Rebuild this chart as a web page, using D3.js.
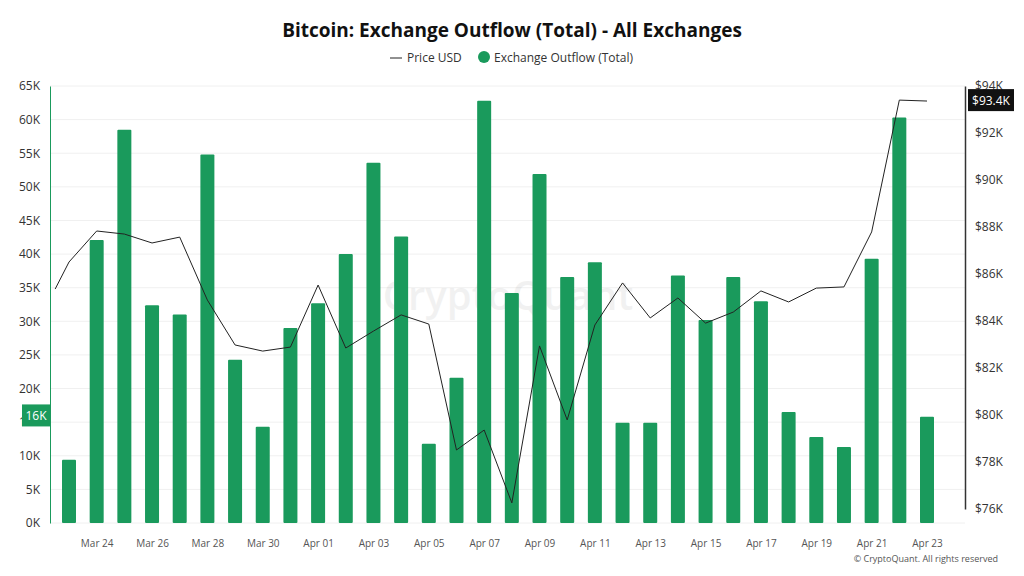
<!DOCTYPE html><html><head><meta charset="utf-8">
<script src="https://cdn.jsdelivr.net/npm/d3@7"></script>
<style>body{margin:0;background:#fff;font-family:"Open Sans",sans-serif}</style></head><body>
<svg id="c" width="1024" height="576"></svg>
<script>
const barDates=["2025-03-23","2025-03-24","2025-03-25","2025-03-26","2025-03-27","2025-03-28","2025-03-29","2025-03-30","2025-03-31","2025-04-01","2025-04-02","2025-04-03","2025-04-04","2025-04-05","2025-04-06","2025-04-07","2025-04-08","2025-04-09","2025-04-10","2025-04-11","2025-04-12","2025-04-13","2025-04-14","2025-04-15","2025-04-16","2025-04-17","2025-04-18","2025-04-19","2025-04-20","2025-04-21","2025-04-22","2025-04-23"];
const outflow=[9.4,42.1,58.5,32.4,31,54.8,24.3,14.3,29,32.7,40,53.6,42.6,11.8,21.6,62.8,34.2,51.9,36.6,38.8,14.9,14.9,36.8,30.2,36.6,33,16.5,12.8,11.3,39.3,60.3,15.8];
const priceDates=["2025-03-22T12:00"].concat(barDates);
const price=[85.36,86.51,87.83,87.70,87.32,87.57,84.89,82.98,82.72,82.89,85.53,82.85,83.57,84.26,83.87,78.51,79.36,76.26,82.94,79.79,83.83,85.62,84.13,84.98,83.91,84.38,85.28,84.81,85.40,85.45,87.79,93.40,93.36];
const leftTicks=[0,5,10,15,20,25,30,35,40,45,50,55,60,65];
const rightTicks=[76,78,80,82,84,86,88,90,92,94];
const xTickDates=["2025-03-24","2025-03-26","2025-03-28","2025-03-30","2025-04-01","2025-04-03","2025-04-05","2025-04-07","2025-04-09","2025-04-11","2025-04-13","2025-04-15","2025-04-17","2025-04-19","2025-04-21","2025-04-23"];
const P=d3.timeParse("%Y-%m-%d"),PT=d3.timeParse("%Y-%m-%dT%H:%M");
const svg=d3.select("#c");
const x=d3.scaleTime().domain([P("2025-03-23"),P("2025-04-23")]).range([69,927]);
const yl=d3.scaleLinear().domain([0,65]).range([523,86]);
const yr=d3.scaleLinear().domain([76,94]).range([509,86]);
const green="#1a9a5c";
svg.append("text").attr("x",512).attr("y",37).attr("text-anchor","middle").attr("font-size",19).attr("font-weight",700).attr("fill","#111").text("Bitcoin: Exchange Outflow (Total) - All Exchanges");
// legend
const lg=svg.append("g");
lg.append("line").attr("x1",390).attr("x2",402).attr("y1",58).attr("y2",58).attr("stroke","#222");
lg.append("text").attr("x",407).attr("y",62).attr("font-size",12).attr("fill","#333").text("Price USD");
lg.append("circle").attr("cx",484).attr("cy",57).attr("r",6).attr("fill",green);
lg.append("text").attr("x",494).attr("y",62).attr("font-size",12).attr("fill","#333").text("Exchange Outflow (Total)");
// grid
svg.append("g").selectAll("line").data(leftTicks).join("line").attr("x1",50).attr("x2",965).attr("y1",d=>yl(d)).attr("y2",d=>yl(d)).attr("stroke","#f0f0f0");
// watermark
svg.append("text").attr("x",508).attr("y",310).attr("text-anchor","middle").attr("font-size",40).attr("fill","#000").attr("opacity",0.05).attr("font-weight",600).text("CryptoQuant");
// bars
svg.append("g").selectAll("rect").data(outflow).join("rect").attr("x",(d,i)=>x(P(barDates[i]))-7).attr("width",14).attr("y",d=>yl(d)).attr("height",d=>yl(0)-yl(d)).attr("rx",1).attr("fill",green);
// price line
svg.append("path").datum(price).attr("fill","none").attr("stroke","#222").attr("stroke-width",1).attr("d",d3.line().x((d,i)=>x(i==0?PT(priceDates[0]):P(priceDates[i]))).y(d=>yr(d)));
// left axis
const la=svg.append("g").attr("transform","translate(50,0)").call(d3.axisLeft(yl).tickValues(leftTicks).tickFormat(d=>d+"K").tickSize(0).tickPadding(10));
la.select(".domain").attr("stroke",green);
la.selectAll("text").attr("font-size",12).attr("fill","#333").attr("font-family","Open Sans");
// right axis
const ra=svg.append("g").attr("transform","translate(965,0)").call(d3.axisRight(yr).tickValues(rightTicks).tickFormat(d=>"$"+d+"K").tickSize(0).tickPadding(10));
ra.select(".domain").attr("stroke","#333").attr("stroke-width",1.5);
ra.selectAll("text").attr("font-size",12).attr("fill","#333").attr("font-family","Open Sans");
// x axis
const xa=svg.append("g").attr("transform","translate(0,523)").call(d3.axisBottom(x).tickValues(xTickDates.map(P)).tickFormat(d3.timeFormat("%b %d")).tickSize(0).tickPadding(17));
xa.select(".domain").remove();
xa.selectAll("text").attr("font-size",10).attr("fill","#555").attr("font-family","Open Sans");
// markers
svg.append("rect").attr("x",968).attr("y",yr(93.4)-11).attr("width",46).attr("height",22).attr("fill","#111");
svg.append("text").attr("x",991).attr("y",yr(93.4)+5).attr("text-anchor","middle").attr("font-size",12).attr("fill","#fff").text("$93.4K");
svg.append("rect").attr("x",22).attr("y",yl(16)-11).attr("width",28).attr("height",22).attr("fill",green);
svg.append("text").attr("x",36).attr("y",yl(16)+5).attr("text-anchor","middle").attr("font-size",12).attr("fill","#fff").text("16K");
svg.append("text").attr("x",998).attr("y",562).attr("text-anchor","end").attr("font-size",9).attr("fill","#555").text("© CryptoQuant. All rights reserved");
</script></body></html>
